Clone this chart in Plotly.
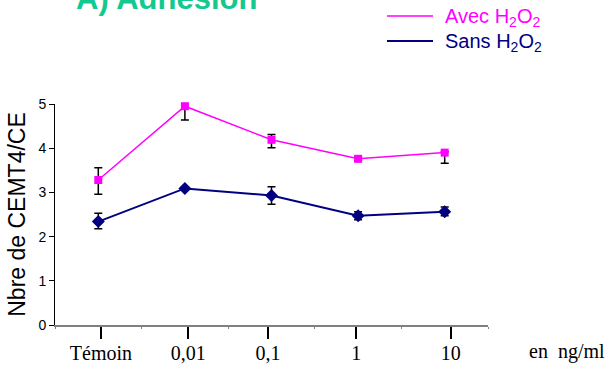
import plotly.graph_objects as go

# ---- data ----
categories = ["Témoin", "0,01", "0,1", "1", "10"]
avec_values = [3.28, 4.95, 4.19, 3.76, 3.90]
avec_err_plus = [0.28, 0.15, 0.12, 0.04, 0.02]
avec_err_minus = [0.32, 0.31, 0.18, 0.04, 0.24]
sans_values = [2.34, 3.09, 2.93, 2.47, 2.56]
sans_err_plus = [0.19, 0.04, 0.20, 0.09, 0.11]
sans_err_minus = [0.16, 0.04, 0.20, 0.09, 0.09]
y_ticks = [0, 1, 2, 3, 4, 5]
unit_label = "en  ng/ml"
y_title = "Nbre de CEMT4/CE"
chart_title = "A) Adhesion"
avec_name = "Avec H<sub>2</sub>O<sub>2</sub>"
sans_name = "Sans H<sub>2</sub>O<sub>2</sub>"

MAGENTA = "#FF00FF"
NAVY = "#000080"
GREEN = "#14C98F"

W, H = 610, 381
ML, MR, MT, MB = 55, 122, 104, 56
PW, PH = W - ML - MR, H - MT - MB


def px(xp):
    return (xp - ML) / PW


def py(yp):
    return (H - MB - yp) / PH


idx = list(range(len(categories)))
# major tick offsets (as drawn in the original, slightly off the points)
major_offsets = [0.03, 0.04, -0.04, -0.02, 0.07]
major_ticks = [i + o for i, o in zip(idx, major_offsets)]
minor_ticks = [i - 0.5 for i in idx] + [idx[-1] + 0.5]

fig = go.Figure()

fig.add_trace(go.Scatter(
    x=idx, y=avec_values, mode="lines+markers", name="Avec H2O2", showlegend=False,
    line=dict(color=MAGENTA, width=1.5),
    marker=dict(symbol="square", size=8, color=MAGENTA),
    error_y=dict(type="data", symmetric=False, array=avec_err_plus,
                 arrayminus=avec_err_minus, color="black", thickness=1.5, width=4),
    cliponaxis=False,
))
fig.add_trace(go.Scatter(
    x=idx, y=sans_values, mode="lines+markers", name="Sans H2O2", showlegend=False,
    line=dict(color=NAVY, width=2),
    marker=dict(symbol="diamond", size=10, color=NAVY),
    error_y=dict(type="data", symmetric=False, array=sans_err_plus,
                 arrayminus=sans_err_minus, color="black", thickness=1.5, width=4),
    cliponaxis=False,
))

legend_font = dict(size=20, family="Arial, Liberation Sans, sans-serif")
shapes = [
    dict(type="line", xref="paper", yref="paper", x0=px(387), x1=px(433),
         y0=py(16), y1=py(16), line=dict(color=MAGENTA, width=1.5)),
    dict(type="line", xref="paper", yref="paper", x0=px(387), x1=px(433),
         y0=py(41), y1=py(41), line=dict(color=NAVY, width=2)),
]

fig.update_layout(
    width=W, height=H,
    margin=dict(l=ML, r=MR, t=MT, b=MB, autoexpand=False),
    paper_bgcolor="white", plot_bgcolor="white",
    font=dict(family="Arial, Liberation Sans, sans-serif", color="black"),
    showlegend=False,
    shapes=shapes,
    xaxis=dict(
        range=[-0.5, len(categories) - 0.5], showgrid=False, zeroline=False,
        showline=True, linecolor="#808080", linewidth=1.5,
        tickmode="array", tickvals=major_ticks, ticktext=categories,
        ticks="outside", ticklen=12, tickwidth=2, tickcolor="black",
        ticklabelstandoff=-3,
        tickfont=dict(family="Liberation Serif, Times New Roman, serif", size=20),
        minor=dict(tickmode="array", tickvals=minor_ticks, ticks="outside",
                   ticklen=2, tickwidth=1, tickcolor="#808080", showgrid=False),
    ),
    yaxis=dict(
        range=[0, 5], showgrid=False, zeroline=False,
        showline=True, linecolor="black", linewidth=1,
        tickmode="array", tickvals=y_ticks,
        ticks="outside", ticklen=5, tickwidth=1, tickcolor="black",
        tickfont=dict(size=14),
        title=dict(text=y_title, font=dict(size=23), standoff=6),
    ),
    annotations=[
        dict(text=f"<b>{chart_title}</b>", xref="paper", yref="paper",
             x=px(74), y=py(-1), xanchor="left", yanchor="middle",
             showarrow=False, font=dict(size=31, color=GREEN,
                                        family="Arial, Liberation Sans, sans-serif")),
        dict(text=unit_label, xref="paper", yref="paper",
             x=px(567), y=py(351), xanchor="center", yanchor="middle",
             showarrow=False,
             font=dict(size=20, family="Liberation Serif, Times New Roman, serif")),
        dict(text=avec_name, xref="paper", yref="paper", x=px(443), y=py(17),
             xanchor="left", yanchor="middle", showarrow=False,
             font=dict(color=MAGENTA, **legend_font)),
        dict(text=sans_name, xref="paper", yref="paper", x=px(443), y=py(42),
             xanchor="left", yanchor="middle", showarrow=False,
             font=dict(color=NAVY, **legend_font)),
    ],
)

fig.write_html("out.html",
               config={"displayModeBar": False},
               post_script="document.body.style.margin='0';document.body.style.overflow='hidden';")
